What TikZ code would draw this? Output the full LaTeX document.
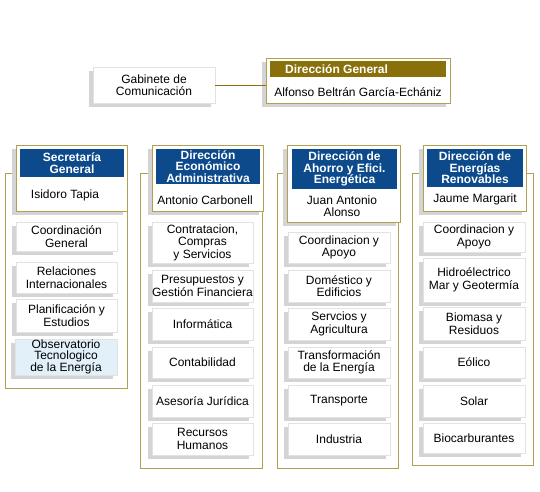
\documentclass[tikz,border=0pt]{standalone}
\usepackage{fontspec}
\setmainfont{Liberation Sans}
\definecolor{olv}{RGB}{178,160,80}
\definecolor{olvdark}{RGB}{138,112,10}
\definecolor{navy}{RGB}{12,74,140}
\definecolor{shd}{RGB}{212,212,212}
\definecolor{bord}{RGB}{226,226,226}
\definecolor{ltblue}{RGB}{226,240,250}
\tikzset{
 txt/.style={font=\fontsize{12}{12.5}\selectfont, align=center, inner sep=0pt},
 ttl/.style={font=\fontsize{12}{11.5}\selectfont\bfseries, text=white, align=center, inner sep=0pt},
 subbox/.style={draw=bord, fill=white, line width=0.8pt},
 bluebox/.style={draw=bord, fill=ltblue, line width=0.8pt},
 hdrbox/.style={draw=olv, fill=white, line width=0.8pt},
 navybar/.style={fill=navy},
 olvbar/.style={fill=olvdark},
 framebox/.style={draw=olv, line width=0.8pt},
 link/.style={draw=olvdark, line width=0.8pt},
}
% box with shadow: [style]{name}{x1}{y1}{x2}{y2}{text}
\newcommand{\shbox}[7][subbox]{%
 \fill[shd] ({#3-4},{#4+4}) rectangle ({#5-4},{#6+4});
 \node[txt, #1, minimum width={(#5-#3)*1pt}, minimum height={(#6-#4)*1pt}] (#2) at ({(#3+#5)/2},{(#4+#6)/2}) {#7};
}
% box without shadow
\newcommand{\plbox}[7][framebox]{%
 \node[txt, #1, minimum width={(#5-#3)*1pt}, minimum height={(#6-#4)*1pt}] (#2) at ({(#3+#5)/2},{(#4+#6)/2}) {#7};
}
\begin{document}
\begin{tikzpicture}[x=1pt,y=-1pt]
\useasboundingbox (0,0) rectangle (540,491);
\fill[white] (0,0) rectangle (540,491);

% top
\shbox{gab}{93}{67}{215}{103}{Gabinete de\\Comunicación}
\shbox[hdrbox]{dg}{266}{58}{450}{103}{}
\plbox[olvbar]{dgbar}{270}{61}{446}{77}{}
\node[ttl, anchor=west] (dgt) at (285,69) {Dirección General};
\node[txt] (dgn) at (358,92) {Alfonso Beltrán García-Echániz};
\draw[link] (gab.east) -- (gab.east -| dg.west);

% frames
\plbox{f1}{5}{173}{127}{388}{}
\plbox{f2}{140}{173}{262}{468}{}
\plbox{f3}{277}{173}{398}{468}{}
\plbox{f4}{412}{173}{533}{465}{}

% column 1
\shbox[hdrbox]{h1}{16}{145}{127}{211}{}
\plbox[ttl,navybar]{b1}{20}{149}{124}{177}{Secretaría\\General}
\node[txt] (n1) at (65,195) {Isidoro Tapia};
\shbox{s11}{16}{222}{117}{251}{Coordinación\\General}
\shbox{s12}{16}{262}{117}{293}{Relaciones\\Internacionales}
\shbox{s13}{16}{299}{117}{332}{Planificación y\\Estudios}
\shbox[bluebox,font=\fontsize{12}{11}\selectfont]{s14}{15}{339}{117}{375}{Observatorio\\Tecnologico\\de la Energía}

% column 2
\shbox[hdrbox]{h2}{152}{145}{263}{211}{}
\plbox[ttl,navybar]{b2}{156}{149}{260}{184}{Dirección\\Económico\\Administrativa}
\node[txt] (n2) at (205,200) {Antonio Carbonell};
\shbox{s21}{152}{222}{253}{263}{Contratacion,\\Compras\\y Servicios}
\shbox{s22}{152}{270}{253}{302}{Presupuestos y\\Gestión Financiera}
\shbox{s23}{152}{308}{253}{340}{Informática}
\shbox{s24}{152}{347}{253}{378}{Contabilidad}
\shbox{s25}{152}{385}{253}{417}{Asesoría Jurídica}
\shbox{s26}{152}{423}{253}{455}{Recursos\\Humanos}

% column 3
\shbox[hdrbox]{h3}{287}{145}{400}{222}{}
\plbox[ttl,navybar]{b3}{292}{149}{397}{189}{Dirección de\\Ahorro y Efici.\\Energética}
\node[txt] (n3) at (342,206) {Juan Antonio\\Alonso};
\shbox{s31}{288}{232}{390}{263}{Coordinacion y\\Apoyo}
\shbox{s32}{288}{270}{390}{302}{Doméstico y\\Edificios}
\shbox{s33}{288}{308}{390}{340}{Servcios y\\Agricultura}
\shbox{s34}{288}{347}{390}{378}{Transformación\\de la Energía}
\shbox{s35}{288}{385}{390}{417}{Transporte}
\shbox{s36}{288}{423}{390}{455}{Industria}

% column 4
\shbox[hdrbox]{h4}{423}{145}{526}{211}{}
\plbox[ttl,navybar]{b4}{427}{149}{523}{187}{Dirección de\\Energías\\Renovables}
\node[txt] (n4) at (475,199) {Jaume Margarit};
\shbox{s41}{423}{222}{525}{252}{Coordinacion y\\Apoyo}
\shbox{s42}{423}{258}{525}{302}{Hidroélectrico\\Mar y Geotermía}
\shbox{s43}{423}{307}{525}{340}{Biomasa y\\Residuos}
\shbox{s44}{423}{347}{525}{378}{Eólico}
\shbox{s45}{423}{385}{525}{417}{Solar}
\shbox{s46}{423}{423}{525}{453}{Biocarburantes}
\end{tikzpicture}
\end{document}
